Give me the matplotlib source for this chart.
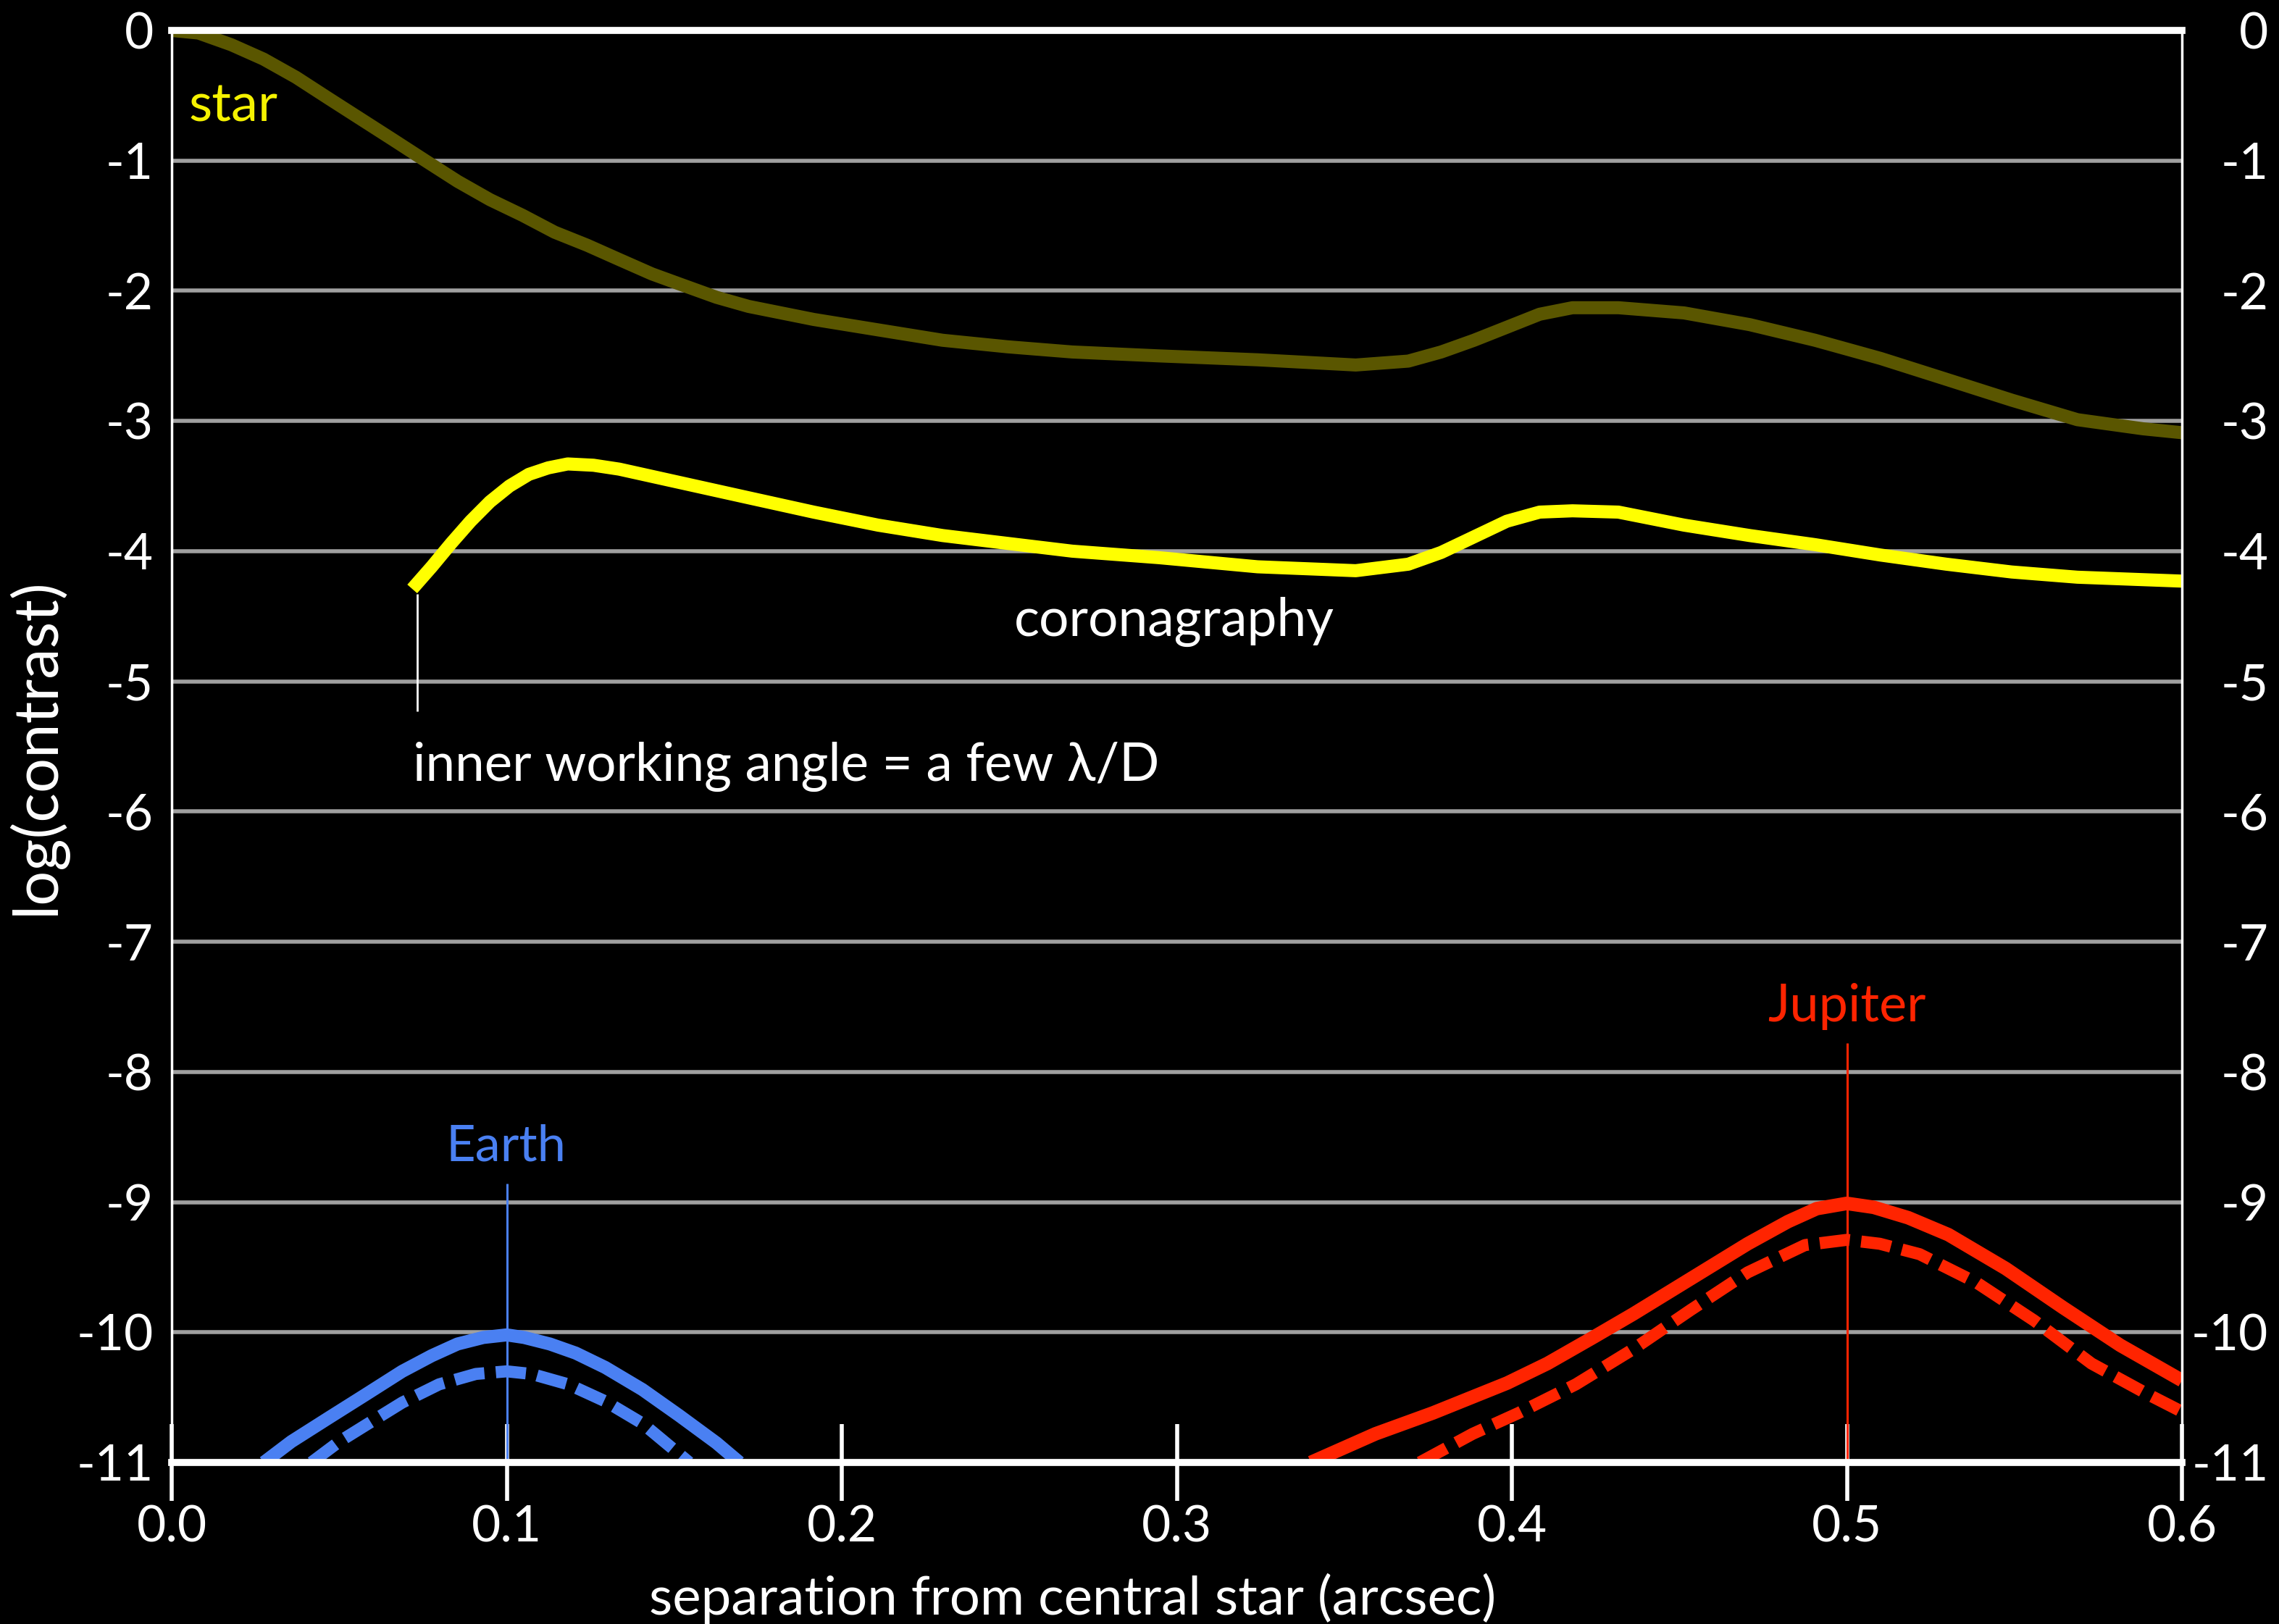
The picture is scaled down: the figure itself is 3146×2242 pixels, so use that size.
import matplotlib
matplotlib.use('Agg')
import matplotlib.pyplot as plt

# ---------------- data ----------------
star_x = [0.0, 0.008, 0.0178, 0.0274, 0.0371, 0.0467, 0.0564, 0.0661, 0.0757, 0.0854,
          0.0950, 0.1047, 0.1143, 0.1240, 0.1336, 0.1433, 0.1529, 0.1626, 0.1722, 0.1819,
          0.1916, 0.2108, 0.2301, 0.2494, 0.2688, 0.2947, 0.3241, 0.3534, 0.3691, 0.3789,
          0.3887, 0.3985, 0.4083, 0.4181, 0.4318, 0.4514, 0.4710, 0.4905, 0.5101, 0.5297,
          0.5492, 0.5688, 0.5884, 0.6]
star_y = [0.0, -0.02, -0.11, -0.22, -0.36, -0.52, -0.68, -0.84, -1.0, -1.16,
          -1.30, -1.42, -1.55, -1.65, -1.76, -1.87, -1.96, -2.05, -2.12, -2.17,
          -2.22, -2.30, -2.38, -2.43, -2.47, -2.50, -2.53, -2.57, -2.54, -2.47,
          -2.38, -2.28, -2.18, -2.13, -2.13, -2.17, -2.26, -2.38, -2.52, -2.68,
          -2.84, -2.99, -3.06, -3.09]

coro_x = [0.0718, 0.0776, 0.0834, 0.0892, 0.0950, 0.1008, 0.1066, 0.1124, 0.1182, 0.1259,
          0.1336, 0.1529, 0.1722, 0.1916, 0.2108, 0.2301, 0.2494, 0.2688, 0.2947, 0.3241,
          0.3534, 0.3691, 0.3789, 0.3887, 0.3985, 0.4083, 0.4181, 0.4318, 0.4514, 0.4710,
          0.4905, 0.5101, 0.5297, 0.5492, 0.5688, 0.6]
coro_y = [-4.29, -4.12, -3.94, -3.77, -3.62, -3.50, -3.41, -3.36, -3.33, -3.34,
          -3.37, -3.48, -3.59, -3.70, -3.80, -3.88, -3.94, -4.00, -4.05, -4.12,
          -4.15, -4.10, -4.01, -3.89, -3.77, -3.70, -3.69, -3.70, -3.80, -3.88,
          -3.95, -4.03, -4.10, -4.16, -4.20, -4.23]

earth_x = [0.0275, 0.0357, 0.0467, 0.0578, 0.0688, 0.0776, 0.0853, 0.0930, 0.1, 0.1052,
           0.1129, 0.1206, 0.1294, 0.1405, 0.1515, 0.1626, 0.1695]
earth_y = [-11.0, -10.84, -10.66, -10.48, -10.30, -10.18, -10.09, -10.04, -10.02, -10.04,
           -10.09, -10.16, -10.27, -10.44, -10.64, -10.85, -11.0]

earth_dash_x = [0.0417, 0.0500, 0.0600, 0.0688, 0.0798, 0.0908, 0.1, 0.1074, 0.1184,
                0.1294, 0.1405, 0.1545]
earth_dash_y = [-11.0, -10.84, -10.68, -10.54, -10.40, -10.32, -10.30, -10.32, -10.40,
                -10.53, -10.70, -11.0]

jup_x = [0.340, 0.3593, 0.3764, 0.3986, 0.4106, 0.4242, 0.4362, 0.4533, 0.4704, 0.4824,
         0.4910, 0.5, 0.5080, 0.5183, 0.5303, 0.5474, 0.5645, 0.5816, 0.6]
jup_y = [-11.0, -10.78, -10.62, -10.39, -10.24, -10.04, -9.86, -9.59, -9.32, -9.15,
         -9.05, -9.01, -9.04, -9.12, -9.25, -9.51, -9.81, -10.10, -10.37]

jup_dash_x = [0.3725, 0.3883, 0.4020, 0.4191, 0.4362, 0.4533, 0.4704, 0.4875, 0.5,
              0.5098, 0.5217, 0.5388, 0.5559, 0.5730, 0.5901, 0.6]
jup_dash_y = [-11.0, -10.78, -10.62, -10.40, -10.13, -9.83, -9.54, -9.33, -9.29,
              -9.32, -9.40, -9.62, -9.91, -10.24, -10.48, -10.61]

x_ticks = [0.0, 0.1, 0.2, 0.3, 0.4, 0.5, 0.6]
x_tick_labels = ['0.0', '0.1', '0.2', '0.3', '0.4', '0.5', '0.6']
y_ticks = [0, -1, -2, -3, -4, -5, -6, -7, -8, -9, -10, -11]
y_tick_labels = ['0', '-1', '-2', '-3', '-4', '-5', '-6', '-7', '-8', '-9', '-10', '-11']

earth_sep, earth_marker_top = 0.1, -8.86
jup_sep, jup_marker_top = 0.5, -7.78
iwa_sep, iwa_top, iwa_bottom = 0.0733, -4.33, -5.23

# ---------------- styling ----------------
plt.rcParams['font.family'] = ['Lato', 'DejaVu Sans']

W, H = 3146, 2242
DPI = 100
fig = plt.figure(figsize=(W / DPI, H / DPI), dpi=DPI, facecolor='black')
L, R, T, B = 237, 3012, 42, 2019
ax = fig.add_axes([L / W, 1 - B / H, (R - L) / W, (B - T) / H], facecolor='black')
ax.set_xlim(0, 0.6)
ax.set_ylim(-11, 0)

renderer = fig.canvas.get_renderer()


def fit(text, target_px, base=40.0):
    t = fig.text(0, 0, text, fontsize=base)
    w = t.get_window_extent(renderer).width
    t.remove()
    return base * target_px / w


fs_tick = fit('0.0', 97)

YELLOW = '#ffff00'
STAR = '#5a5600'
BLUE = '#4a80f2'
RED = '#ff2400'
GRID = '#a0a0a0'

# grid
ax.set_yticks(y_ticks)
ax.set_yticklabels(y_tick_labels)
ax.grid(axis='y', color=GRID, lw=4)
ax.set_axisbelow(True)

# curves
ax.plot(star_x, star_y, color=STAR, lw=13, solid_joinstyle='round', solid_capstyle='butt')
ax.plot(coro_x, coro_y, color=YELLOW, lw=13, solid_joinstyle='round', solid_capstyle='butt')
ax.plot(earth_x, earth_y, color=BLUE, lw=13, solid_joinstyle='round', solid_capstyle='butt')
ax.plot(earth_dash_x, earth_dash_y, color=BLUE, lw=12, ls=(0, (2.5, 0.95)),
        dash_capstyle='butt', dash_joinstyle='round')
ax.plot(jup_x, jup_y, color=RED, lw=13.5, solid_joinstyle='round', solid_capstyle='butt')
ax.plot(jup_dash_x, jup_dash_y, color=RED, lw=12, ls=(0, (2.5, 0.95)),
        dash_capstyle='butt', dash_joinstyle='round')

# marker lines
ax.vlines(earth_sep, -11, earth_marker_top, color=BLUE, lw=2.2, zorder=2.2)
ax.vlines(jup_sep, -11, jup_marker_top, color=RED, lw=2.2, zorder=2.2)
ax.vlines(iwa_sep, iwa_bottom, iwa_top, color='white', lw=2.0, zorder=2.2)

# labels in plot
ax.text(0.005, -0.70, 'star', color='#f5f200', fontsize=fit('star', 123), ha='left', va='baseline')
ax.text(0.2993, -4.65, 'coronagraphy', color='white', fontsize=fit('coronagraphy', 442),
        ha='center', va='baseline')
ax.text(0.072, -5.765, 'inner working angle = a few λ/D', color='white',
        fontsize=fit('inner working angle = a few λ/D', 1030), ha='left', va='baseline')
ax.text(0.0997, -8.68, 'Earth', color=BLUE, fontsize=fit('Earth', 166), ha='center', va='baseline')
ax.text(0.5, -7.61, 'Jupiter', color=RED, fontsize=fit('Jupiter', 218), ha='center', va='baseline')

# spines
for s in ['top', 'bottom']:
    ax.spines[s].set_color('white')
    ax.spines[s].set_linewidth(7)
for s in ['left', 'right']:
    ax.spines[s].set_color('white')
    ax.spines[s].set_linewidth(2.5)

# x ticks
ax.set_xticks(x_ticks)
ax.set_xticklabels(x_tick_labels)
ax.tick_params(axis='x', direction='inout', length=76, width=4, color='white',
               labelcolor='white', labelsize=fs_tick, pad=4)
ax.tick_params(axis='y', length=0, pad=18, labelcolor='white', labelsize=fs_tick)

# right side labels
ax2 = ax.twinx()
ax2.set_ylim(-11, 0)
ax2.set_yticks(y_ticks)
ax2.set_yticklabels(y_tick_labels)
ax2.tick_params(axis='y', length=0, pad=86, labelcolor='white', labelsize=fs_tick)
for lab in ax2.get_yticklabels():
    lab.set_horizontalalignment('right')
for s in ax2.spines.values():
    s.set_visible(False)

# axis titles
fig.text(1481 / W, 1 - 2207 / H, 'separation from central star (arcsec)', color='white',
         fontsize=fit('separation from central star (arcsec)', 1169), ha='center', va='center')
fig.text(50 / W, 1 - 1030 / H, 'log(contrast)', color='white', rotation=90,
         fontsize=fit('log(contrast)', 465), ha='center', va='center')

fig.savefig('out.png', dpi=DPI, facecolor='black')
